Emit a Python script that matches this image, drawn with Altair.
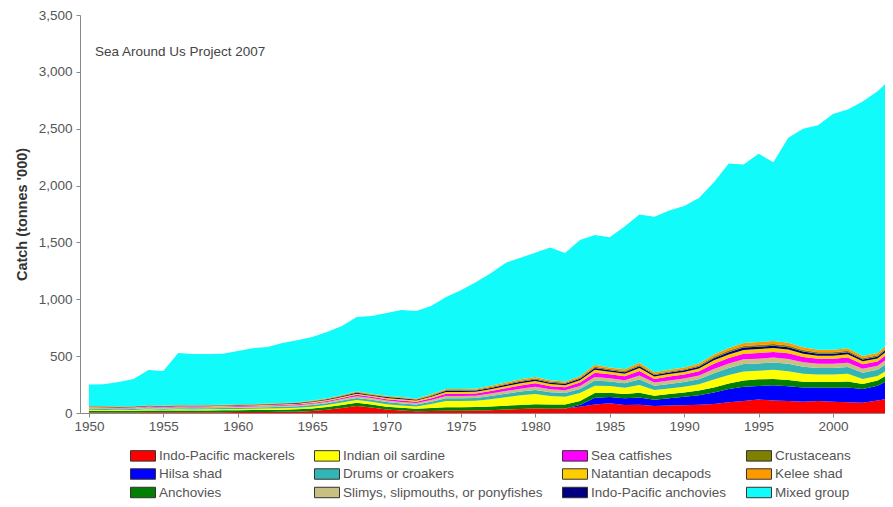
import altair as alt
import pandas as pd

years = list(range(1950, 2005))

# values in tonnes '000, bottom of the stack first
mackerels = [5, 5, 5, 5, 6, 6, 6, 6, 7, 7,
             8, 8, 9, 10, 12, 18, 28, 45, 62, 48,
             30, 22, 15, 18, 20, 20, 22, 25, 30, 35,
             40, 38, 40, 55, 75, 85, 70, 72, 62, 65,
             68, 72, 80, 95, 105, 118, 110, 105, 100, 105,
             98, 95, 90, 110, 130]
hilsa = [0] * 33 + [15, 60, 55, 60, 65, 55, 65,
                    75, 85, 100, 115, 125, 120, 135, 130, 125, 120,
                    125, 130, 120, 130, 175]
anchovies = [15, 15, 14, 14, 16, 15, 16, 16, 16, 17,
             17, 18, 18, 19, 20, 22, 24, 26, 28, 27,
             26, 25, 22, 26, 30, 30, 30, 32, 34, 36,
             38, 36, 35, 36, 40, 38, 36, 40, 35, 36,
             38, 40, 45, 50, 55, 58, 55, 55, 50, 48,
             50, 52, 45, 45, 55]
oil_sardine = [8, 7, 7, 8, 10, 8, 10, 9, 9, 10,
               11, 11, 12, 13, 14, 16, 18, 22, 25, 24,
               22, 18, 20, 35, 55, 55, 55, 65, 75, 85,
               90, 75, 68, 70, 65, 60, 55, 70, 50, 50,
               50, 55, 70, 75, 80, 75, 80, 78, 70, 65,
               65, 68, 45, 40, 45]
drums = [8, 8, 8, 8, 10, 9, 10, 10, 10, 10,
         11, 11, 12, 12, 13, 14, 15, 17, 18, 18,
         18, 18, 17, 20, 25, 25, 25, 27, 30, 32,
         35, 33, 32, 35, 45, 40, 40, 48, 38, 40,
         42, 45, 55, 60, 65, 65, 65, 65, 62, 58,
         58, 60, 55, 55, 65]
slimys = [8, 8, 7, 7, 8, 8, 8, 8, 8, 9,
          9, 9, 10, 10, 10, 11, 12, 13, 15, 14,
          14, 14, 13, 16, 20, 20, 20, 22, 24, 26,
          28, 26, 25, 27, 32, 28, 28, 34, 28, 30,
          30, 32, 38, 40, 42, 42, 42, 42, 40, 38,
          38, 38, 35, 35, 40]
catfishes = [4, 4, 4, 4, 5, 5, 5, 5, 5, 5,
             6, 6, 6, 7, 7, 8, 9, 10, 12, 11,
             12, 13, 12, 15, 20, 20, 20, 22, 25, 28,
             30, 28, 27, 30, 38, 34, 34, 40, 32, 34,
             35, 38, 45, 48, 50, 50, 50, 50, 45, 42,
             42, 44, 38, 38, 45]
natantian = [4, 4, 4, 4, 4, 4, 5, 5, 5, 5,
             5, 5, 6, 6, 6, 7, 8, 8, 10, 9,
             10, 11, 10, 12, 15, 15, 15, 16, 18, 20,
             20, 19, 18, 20, 25, 22, 22, 26, 21, 22,
             23, 25, 30, 32, 33, 34, 34, 33, 30, 28,
             28, 29, 26, 26, 30]
ip_anchovies = [4, 4, 4, 4, 4, 4, 4, 4, 4, 4,
                4, 4, 4, 5, 5, 5, 6, 7, 8, 7,
                8, 8, 7, 8, 10, 10, 10, 11, 12, 13,
                13, 12, 12, 13, 16, 14, 14, 16, 13, 14,
                14, 15, 18, 20, 20, 21, 21, 20, 19, 18,
                18, 18, 16, 16, 18]
crustaceans = [3, 3, 3, 3, 3, 3, 3, 3, 3, 3,
               3, 3, 3, 3, 4, 4, 4, 5, 6, 5,
               5, 5, 5, 6, 7, 7, 7, 8, 8, 9,
               9, 9, 8, 9, 11, 10, 10, 12, 10, 10,
               10, 11, 13, 14, 15, 15, 15, 15, 14, 13,
               13, 13, 12, 12, 14]
kelee = [3, 3, 3, 3, 3, 3, 3, 3, 3, 3,
         3, 3, 3, 3, 4, 4, 5, 6, 7, 6,
         7, 7, 7, 8, 10, 10, 10, 11, 12, 13,
         14, 13, 13, 14, 17, 15, 15, 18, 15, 15,
         16, 17, 20, 22, 25, 26, 26, 25, 24, 22,
         22, 22, 20, 20, 25]
mixed = [188, 191, 214, 239, 309, 305, 458, 450, 449, 447,
         468, 492, 497, 527, 545, 559, 583, 606, 653, 684,
         728, 765, 769, 777, 808, 868, 936, 991, 1052, 1068,
         1093, 1166, 1129, 1197, 1141, 1144, 1256, 1304, 1366, 1399,
         1419, 1455, 1516, 1624, 1570, 1656, 1572, 1802, 1921, 1973,
         2073, 2101, 2238, 2303, 2308]

# stack order (bottom first); the legend fills column by column in this order
stack_names = ["Indo-Pacific mackerels", "Hilsa shad", "Anchovies",
               "Indian oil sardine", "Drums or croakers",
               "Slimys, slipmouths, or ponyfishes", "Sea catfishes",
               "Natantian decapods", "Indo-Pacific anchovies",
               "Crustaceans", "Kelee shad", "Mixed group"]
stack_values = [mackerels, hilsa, anchovies, oil_sardine, drums, slimys,
                catfishes, natantian, ip_anchovies, crustaceans, kelee, mixed]
stack_colors = ["#FF0000", "#0000FF", "#007F00", "#FFFF00", "#33B5B5",
                "#C8C080", "#FF00FF", "#FFCC00", "#000080", "#7F7F00",
                "#FF9900", "#11FBFB"]

rows = []
for k, (name, vals) in enumerate(zip(stack_names, stack_values)):
    for yr, v in zip(years, vals):
        rows.append({"year": yr, "catch": v, "species": name, "k": k})
df = pd.DataFrame(rows)

FONT = "Liberation Sans"

area = alt.Chart(df).mark_area(clip=True, interpolate="linear").encode(
    x=alt.X("year:Q",
            scale=alt.Scale(domain=[1949.4, 2003.5], nice=False, zero=False),
            axis=alt.Axis(values=list(range(1950, 2001, 5)), format="d", title=None,
                          tickSize=4, labelPadding=2)),
    y=alt.Y("catch:Q", stack="zero",
            scale=alt.Scale(domain=[0, 3500], nice=False),
            axis=alt.Axis(values=list(range(0, 3501, 500)), format=",d",
                          title="Catch (tonnes '000)", tickSize=4, labelPadding=4,
                          titlePadding=9)),
    color=alt.Color("species:N",
                    scale=alt.Scale(domain=stack_names, range=stack_colors),
                    legend=alt.Legend(title=None, orient="none", legendX=53, legendY=430.5,
                                      columns=4, columnPadding=17, rowPadding=0.5,
                                      symbolType="M-1.316,-0.55L1.316,-0.55L1.316,0.55L-1.316,0.55Z",
                                      symbolSize=361, symbolStrokeColor="#333333",
                                      symbolStrokeWidth=1, symbolOpacity=1,
                                      labelFont=FONT, labelFontSize=13.5, labelColor="#555555",
                                      labelOffset=6, labelLimit=0, padding=0)),
    order=alt.Order("k:Q", sort="ascending"),
)

note = alt.Chart(pd.DataFrame({"t": ["Sea Around Us Project 2007"]})).mark_text(
    align="left", baseline="middle", font=FONT, fontSize=13.5, color="#444444"
).encode(text="t:N", x=alt.value(15), y=alt.value(37))

chart = alt.layer(area, note).properties(
    width=805, height=398,
    autosize=alt.AutoSizeParams(type="none"),
    padding={"left": 72, "top": 7, "right": 0, "bottom": 87},
).configure_view(stroke=None).configure_axis(
    grid=False, domainColor="#888888", tickColor="#888888",
    labelFont=FONT, labelFontSize=13.5, labelColor="#555555",
    titleFont=FONT, titleFontSize=14.5, titleFontWeight="bold", titleColor="#333333",
)

chart.save("out.html", embed_options={"renderer": "svg", "actions": False})
